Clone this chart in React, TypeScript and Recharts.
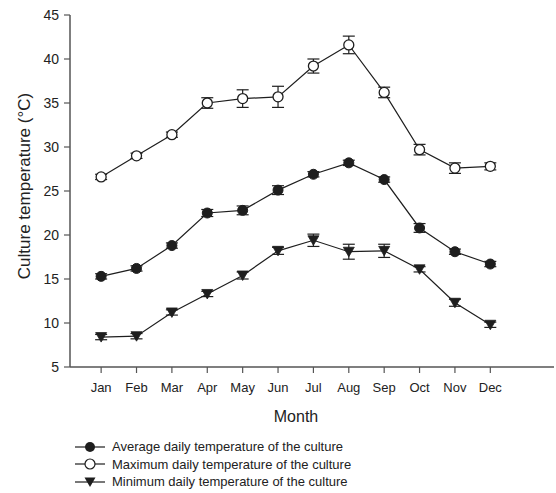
import { ErrorBar, Legend, Line, LineChart, XAxis, YAxis } from "recharts";

const months = ["Jan", "Feb", "Mar", "Apr", "May", "Jun", "Jul", "Aug", "Sep", "Oct", "Nov", "Dec"];

const avgTemp = [15.3, 16.2, 18.8, 22.5, 22.8, 25.1, 26.9, 28.2, 26.3, 20.8, 18.1, 16.7];
const avgErr = [0.3, 0.3, 0.3, 0.4, 0.5, 0.5, 0.3, 0.3, 0.3, 0.5, 0.3, 0.3];

const maxTemp = [26.6, 29.0, 31.4, 35.0, 35.5, 35.7, 39.2, 41.6, 36.2, 29.7, 27.6, 27.8];
const maxErr = [0.3, 0.3, 0.3, 0.6, 1.0, 1.2, 0.8, 1.0, 0.6, 0.6, 0.6, 0.4];

const minTemp = [8.4, 8.5, 11.2, 13.3, 15.4, 18.2, 19.4, 18.1, 18.2, 16.1, 12.3, 9.8];
const minErr = [0.3, 0.3, 0.3, 0.3, 0.4, 0.4, 0.7, 0.85, 0.75, 0.3, 0.4, 0.3];

const yTicks = [5, 10, 15, 20, 25, 30, 35, 40, 45];

const legendItems = [
    { key: "avg", label: "Average daily temperature of the culture" },
    { key: "max", label: "Maximum daily temperature of the culture" },
    { key: "min", label: "Minimum daily temperature of the culture" },
];

const data = months.map((month, i) => ({
    month,
    idx: i + 1,
    avg: avgTemp[i],
    avgErr: avgErr[i],
    max: maxTemp[i],
    maxErr: maxErr[i],
    min: minTemp[i],
    minErr: minErr[i],
}));

const INK = "#1e1e1e";
const AXIS = "#555";
const FONT = "'Liberation Sans', Arial, sans-serif";

const FilledDot = (props: any) => {
    const { cx, cy, key } = props;
    return <circle key={key} cx={cx} cy={cy} r={5} fill={INK} stroke={INK} strokeWidth={1} />;
};

const OpenDot = (props: any) => {
    const { cx, cy, key } = props;
    return <circle key={key} cx={cx} cy={cy} r={5} fill="#fff" stroke={INK} strokeWidth={1.3} />;
};

const Triangle = (props: any) => {
    const { cx, cy, key } = props;
    return <polygon key={key} points={`${cx - 5.5},${cy - 4.5} ${cx + 5.5},${cy - 4.5} ${cx},${cy + 5}`} fill={INK} stroke={INK} strokeWidth={0.8} />;
};

const LegendMark = ({ kind }: { kind: string }) => (
    <svg width={37} height={14} style={{ display: "block" }}>
        <line x1={0} y1={7} x2={30} y2={7} stroke={INK} strokeWidth={1.2} />
        {kind === "avg" && <circle cx={15} cy={7} r={5} fill={INK} />}
        {kind === "max" && <circle cx={15} cy={7} r={5} fill="#fff" stroke={INK} strokeWidth={1.2} />}
        {kind === "min" && <polygon points="9.5,2.5 20.5,2.5 15,12" fill={INK} />}
    </svg>
);

const renderLegend = () => (
    <div style={{ fontFamily: FONT, fontSize: 13, color: "#222" }}>
        {legendItems.map((item) => (
            <div key={item.key} style={{ display: "flex", alignItems: "center", height: 17.5 }}>
                <LegendMark kind={item.key} />
                <span>{item.label}</span>
            </div>
        ))}
    </div>
);

const YLabel = (props: any) => {
    const { viewBox } = props;
    const x = viewBox.x + 24;
    const y = viewBox.y + viewBox.height / 2 - 5;
    return (
        <text x={x} y={y} transform={`rotate(-90, ${x}, ${y})`} textAnchor="middle" dominantBaseline="central" fontSize={17} fontFamily={FONT} fill="#222">
            Culture temperature (°C)
        </text>
    );
};

export default function App() {
    return (
        <div style={{ position: "absolute", left: 0, top: 0, background: "#fff" }}>
            <LineChart width={556} height={493} data={data} margin={{ top: 15, right: 2, left: 0, bottom: 0 }}>
                <XAxis
                    dataKey="idx"
                    type="number"
                    domain={[0.12, 13.8]}
                    ticks={data.map((d) => d.idx)}
                    tickFormatter={(v: number) => months[v - 1]}
                    height={126}
                    tickSize={6}
                    tickMargin={10}
                    allowDataOverflow
                    axisLine={{ stroke: AXIS, strokeWidth: 1.5 }}
                    tickLine={{ stroke: AXIS, strokeWidth: 1.2 }}
                    tick={{ fill: "#222", fontSize: 13, fontFamily: FONT }}
                    label={{ value: "Month", position: "insideTop", offset: 44, dx: -16, fontSize: 16, fontFamily: FONT, fill: "#222" }}
                />
                <XAxis xAxisId="top" orientation="top" type="number" domain={[0.12, 13.8]} height={0} tick={false} tickLine={false} axisLine={{ stroke: AXIS, strokeWidth: 1.5 }} />
                <YAxis
                    type="number"
                    domain={[5, 45]}
                    ticks={yTicks}
                    width={70}
                    tickSize={6}
                    tickMargin={5}
                    axisLine={{ stroke: AXIS, strokeWidth: 1.5 }}
                    tickLine={{ stroke: AXIS, strokeWidth: 1.2 }}
                    tick={{ fill: "#222", fontSize: 14, fontFamily: FONT }}
                    label={<YLabel />}
                />
                <YAxis yAxisId="right" orientation="right" width={0} domain={[5, 45]} tick={false} tickLine={false} axisLine={{ stroke: "#d0d0d0", strokeWidth: 1 }} />
                <Line dataKey="max" stroke={INK} strokeWidth={1.2} dot={OpenDot} activeDot={false} isAnimationActive={false}>
                    <ErrorBar dataKey="maxErr" width={6} stroke={INK} strokeWidth={1.2} direction="y" />
                </Line>
                <Line dataKey="avg" stroke={INK} strokeWidth={1.2} dot={FilledDot} activeDot={false} isAnimationActive={false}>
                    <ErrorBar dataKey="avgErr" width={6} stroke={INK} strokeWidth={1.2} direction="y" />
                </Line>
                <Line dataKey="min" stroke={INK} strokeWidth={1.2} dot={Triangle} activeDot={false} isAnimationActive={false}>
                    <ErrorBar dataKey="minErr" width={6} stroke={INK} strokeWidth={1.2} direction="y" />
                </Line>
                <Legend
                    layout="vertical"
                    align="center"
                    verticalAlign="middle"
                    content={renderLegend}
                    wrapperStyle={{ position: "absolute", left: 75, top: 438, width: 400 }}
                />
            </LineChart>
        </div>
    );
}
